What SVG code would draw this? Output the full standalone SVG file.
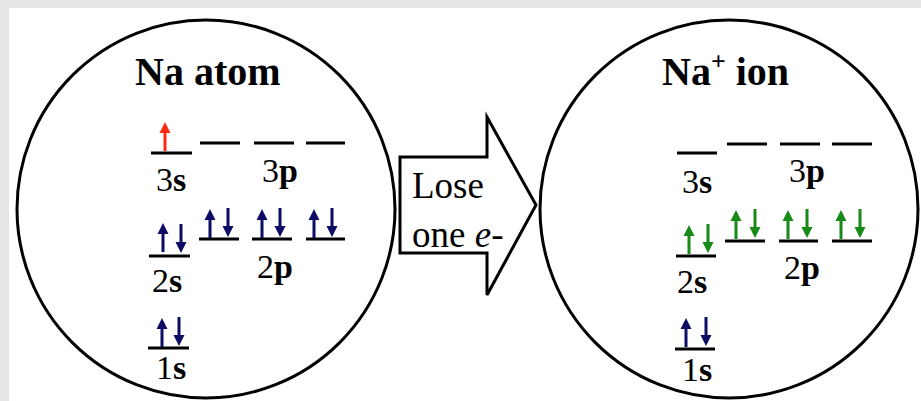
<svg xmlns="http://www.w3.org/2000/svg" width="921" height="401" viewBox="0 0 921 401">
<style>
.ring{fill:none;stroke:#000;stroke-width:3}
.lvl{stroke:#000;stroke-width:3}
.serif{font-family:"Liberation Serif","Times New Roman",serif}
.lbl{font-size:34px;fill:#000}
.b{font-weight:bold}
.title{font-size:40px;font-weight:bold;fill:#000}
.navy{fill:#0d0d66}
.green{fill:#178a17}
.red{fill:#ff2a10}
</style>
<defs>
<path id="up" d="M0,0 L-5.5,11 L-1.5,11 L-1.5,29 L1.5,29 L1.5,11 L5.5,11 Z"/>
<path id="dn" d="M0,0 L-5.5,-11 L-1.5,-11 L-1.5,-29 L1.5,-29 L1.5,-11 L5.5,-11 Z"/>
</defs>
<rect x="0" y="0" width="921" height="401" fill="#e5e5e5"/>
<rect x="9" y="8" width="912" height="393" fill="#fff"/>

<g id="na-atom">
<circle class="ring" cx="206" cy="209" r="189"/>
<text class="title serif" x="135" y="85">Na atom</text>
<g id="atom-3s">
<line class="lvl" x1="151" y1="153" x2="192" y2="153"/>
<use href="#up" x="165" y="122" class="red"/>
<text class="lbl serif" x="156" y="191">3<tspan class="b">s</tspan></text>
</g>
<g id="atom-3p">
<line class="lvl" x1="200" y1="143" x2="240" y2="143"/>
<line class="lvl" x1="254" y1="143" x2="294" y2="143"/>
<line class="lvl" x1="306" y1="143" x2="345" y2="143"/>
<text class="lbl serif" x="262" y="182">3<tspan class="b">p</tspan></text>
</g>
<g id="atom-2s">
<line class="lvl" x1="149" y1="256" x2="190" y2="256"/>
<use href="#up" x="163" y="223" class="navy"/>
<use href="#dn" x="181" y="253" class="navy"/>
<text class="lbl serif" x="152" y="292">2<tspan class="b">s</tspan></text>
</g>
<g id="atom-2p">
<line class="lvl" x1="199" y1="239" x2="239" y2="239"/>
<line class="lvl" x1="252" y1="239" x2="292" y2="239"/>
<line class="lvl" x1="306" y1="239" x2="345" y2="239"/>
<use href="#up" x="210" y="209" class="navy"/>
<use href="#dn" x="228" y="237" class="navy"/>
<use href="#up" x="262" y="209" class="navy"/>
<use href="#dn" x="280" y="237" class="navy"/>
<use href="#up" x="314" y="209" class="navy"/>
<use href="#dn" x="332" y="237" class="navy"/>
<text class="lbl serif" x="257" y="278">2<tspan class="b">p</tspan></text>
</g>
<g id="atom-1s">
<line class="lvl" x1="148" y1="348" x2="189" y2="348"/>
<use href="#up" x="162" y="318" class="navy"/>
<use href="#dn" x="179" y="346" class="navy"/>
<text class="lbl serif" x="156" y="379">1<tspan class="b">s</tspan></text>
</g>
</g>

<g id="connectors">
<g id="lose-arrow">
<path d="M400,157 L487,157 L487,117 L536,205 L487,295 L487,253 L400,253 Z" fill="#fff" stroke="#000" stroke-width="3" stroke-linejoin="miter"/>
<text class="serif" x="412" y="198" font-size="37" fill="#000">Lose</text>
<text class="serif" x="412" y="247" font-size="37" fill="#000">one <tspan font-style="italic">e</tspan>-</text>
</g>
</g>

<g id="na-ion">
<circle class="ring" cx="729" cy="209" r="189"/>
<text class="title serif" x="662" y="85">Na<tspan font-size="26" dy="-15">+</tspan><tspan dy="15"> ion</tspan></text>
<g id="ion-3s">
<line class="lvl" x1="677" y1="153" x2="717" y2="153"/>
<text class="lbl serif" x="682" y="193">3<tspan class="b">s</tspan></text>
</g>
<g id="ion-3p">
<line class="lvl" x1="727" y1="144" x2="767" y2="144"/>
<line class="lvl" x1="780" y1="144" x2="820" y2="144"/>
<line class="lvl" x1="832" y1="144" x2="872" y2="144"/>
<text class="lbl serif" x="789" y="182">3<tspan class="b">p</tspan></text>
</g>
<g id="ion-2s">
<line class="lvl" x1="676" y1="256" x2="716" y2="256"/>
<use href="#up" x="689" y="225" class="green"/>
<use href="#dn" x="708" y="253" class="green"/>
<text class="lbl serif" x="677" y="293">2<tspan class="b">s</tspan></text>
</g>
<g id="ion-2p">
<line class="lvl" x1="725" y1="241" x2="765" y2="241"/>
<line class="lvl" x1="779" y1="241" x2="818" y2="241"/>
<line class="lvl" x1="832" y1="241" x2="872" y2="241"/>
<use href="#up" x="736" y="210" class="green"/>
<use href="#dn" x="755" y="238" class="green"/>
<use href="#up" x="788" y="210" class="green"/>
<use href="#dn" x="807" y="238" class="green"/>
<use href="#up" x="841" y="210" class="green"/>
<use href="#dn" x="860" y="238" class="green"/>
<text class="lbl serif" x="784" y="279">2<tspan class="b">p</tspan></text>
</g>
<g id="ion-1s">
<line class="lvl" x1="675" y1="349" x2="715" y2="349"/>
<use href="#up" x="686" y="318" class="navy"/>
<use href="#dn" x="706" y="346" class="navy"/>
<text class="lbl serif" x="682" y="381">1<tspan class="b">s</tspan></text>
</g>
</g>
</svg>
